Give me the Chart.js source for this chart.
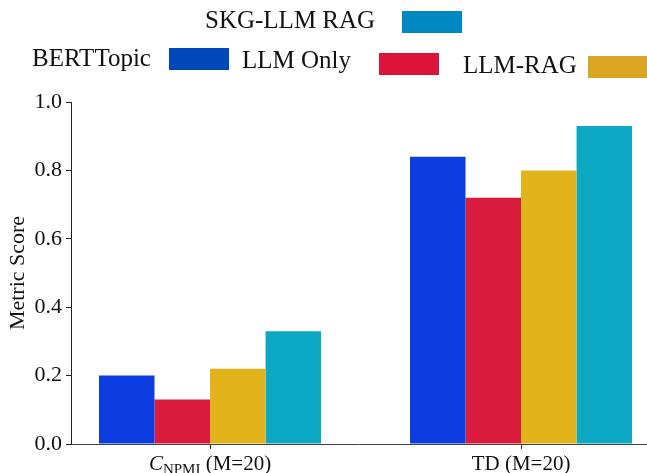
<!DOCTYPE html>
<html>
<head>
<meta charset="utf-8">
<script src="https://cdn.jsdelivr.net/npm/chart.js@4.4.0/dist/chart.umd.min.js"></script>
<style>
  body { margin: 0; background: #fff; }
  #wrap { width: 647px; height: 473px; position: relative; }
</style>
</head>
<body>
<div id="wrap"><canvas id="chart"></canvas></div>
<script>
// data
const categories = ["C_NPMI (M=20)", "TD (M=20)"];
const methods = ["BERTTopic", "LLM Only", "LLM-RAG", "SKG-LLM RAG"];
const bertTopic = [0.20, 0.84];
const llmOnly = [0.13, 0.72];
const llmRag = [0.22, 0.80];
const skgLlmRag = [0.33, 0.93];
const yTicks = [0, 0.2, 0.4, 0.6, 0.8, 1.0];

// colours
const barColors = ["#0b3de0", "#d91c3e", "#e2b31a", "#0da8c4"];
const legendColors = ["#0047bb", "#dc143c", "#daa520", "#0088c0"];
const serif = "'Liberation Serif', 'DejaVu Serif', serif";

// legend layout: text left, baseline, box left, box top
const legendPos = [
  { tx: 32, ty: 66, bx: 169, by: 48 },
  { tx: 242, ty: 68, bx: 379, by: 53 },
  { tx: 463, ty: 73, bx: 588, by: 56 },
  { tx: 205, ty: 28, bx: 402, by: 11 },
];

const series = [bertTopic, llmOnly, llmRag, skgLlmRag];

const datasets = methods.map((m, k) => ({
  label: m,
  data: series[k].map((v, i) => ({ x: i, y: v })),
  backgroundColor: barColors[k],
  borderWidth: 0,
  barPercentage: 1.0,
  categoryPercentage: 0.714,
}));

// legend (label before the box) and rich x labels
const customDraw = {
  id: "customDraw",
  afterDraw(chart) {
    const ctx = chart.ctx;
    ctx.save();
    ctx.textBaseline = "alphabetic";
    ctx.textAlign = "left";
    ctx.font = "25px " + serif;
    chart.data.datasets.forEach((ds, k) => {
      const p = legendPos[k];
      ctx.fillStyle = "#111";
      ctx.fillText(ds.label, p.tx, p.ty);
      ctx.fillStyle = legendColors[k];
      ctx.fillRect(p.bx, p.by, 60, 22);
    });

    // x labels
    const xs = chart.scales.x;
    const base = 470;
    ctx.fillStyle = "#111";
    categories.forEach((c, i) => {
      const cx = xs.getPixelForValue(i);
      if (c.startsWith("C_NPMI")) {
        const rest = c.replace("C_NPMI", "");
        ctx.font = "italic 21px " + serif;
        const w1 = ctx.measureText("C").width;
        ctx.font = "15px " + serif;
        const w2 = ctx.measureText("NPMI").width;
        ctx.font = "21px " + serif;
        const w3 = ctx.measureText(rest).width;
        let x = cx - (w1 + w2 + w3) / 2;
        ctx.font = "italic 21px " + serif;
        ctx.fillText("C", x, base);
        x += w1;
        ctx.font = "15px " + serif;
        ctx.fillText("NPMI", x, base + 4);
        x += w2;
        ctx.font = "21px " + serif;
        ctx.fillText(rest, x, base);
      } else {
        ctx.font = "21px " + serif;
        ctx.textAlign = "center";
        ctx.fillText(c, cx, base);
        ctx.textAlign = "left";
      }
    });
    ctx.restore();
  },
};

new Chart(document.getElementById("chart"), {
  type: "bar",
  data: { datasets },
  options: {
    responsive: true,
    maintainAspectRatio: false,
    animation: false,
    layout: { padding: { top: 102, left: 0, right: 0, bottom: 0 } },
    plugins: { legend: { display: false }, tooltip: { enabled: false } },
    scales: {
      x: {
        type: "linear",
        offset: false,
        min: -0.447,
        max: 1.405,
        afterBuildTicks: (scale) => {
          scale.ticks = categories.map((c, i) => ({ value: i }));
        },
        afterFit: (scale) => { scale.height = 29; },
        ticks: { callback: () => "", autoSkip: false },
        grid: { offset: false, drawOnChartArea: false, tickLength: 5, tickColor: "#333" },
        border: { color: "#444", width: 1 },
      },
      y: {
        min: 0,
        max: 1,
        afterBuildTicks: (scale) => {
          scale.ticks = yTicks.map((v) => ({ value: v }));
        },
        afterFit: (scale) => { scale.width = 71; },
        ticks: {
          callback: (v) => Number(v).toFixed(1),
          color: "#111",
          font: { family: serif, size: 22 },
          padding: 4,
        },
        grid: { drawOnChartArea: false, tickLength: 5, tickColor: "#222" },
        border: { color: "#222", width: 1 },
        title: {
          display: true,
          text: "Metric Score",
          color: "#111",
          font: { family: serif, size: 22 },
          padding: { top: 5, bottom: 0 },
        },
      },
    },
  },
  plugins: [customDraw],
});
</script>
</body>
</html>
